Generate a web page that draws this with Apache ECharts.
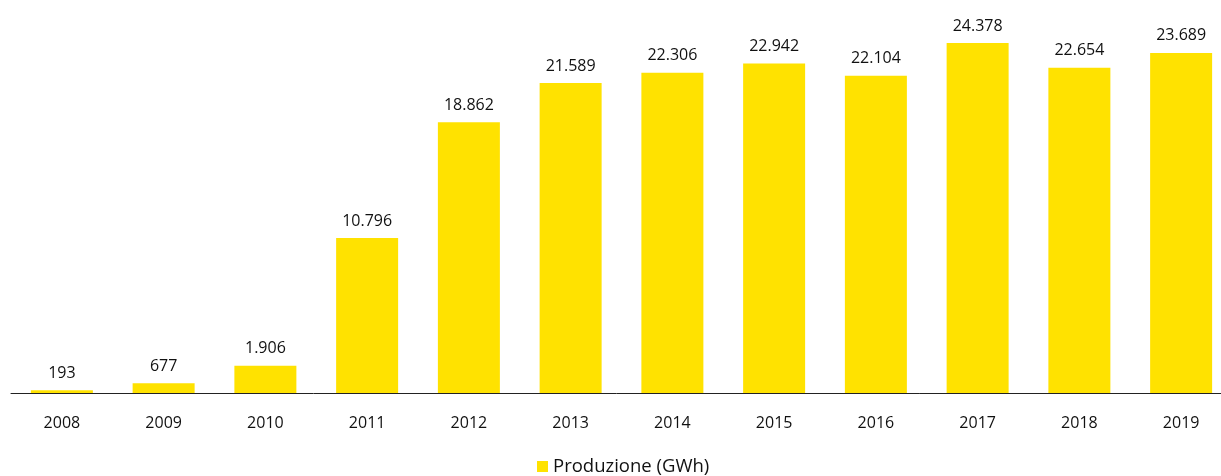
<!DOCTYPE html>
<html><head><meta charset="utf-8">
<script src="https://cdn.jsdelivr.net/npm/echarts@6/dist/echarts.min.js"></script>
<style>html,body{margin:0;padding:0;background:#fff}#c{width:1221px;height:476px}</style>
</head><body><div id="c"></div>
<script>
const categories = ['2008','2009','2010','2011','2012','2013','2014','2015','2016','2017','2018','2019'];
const produzione = [193, 677, 1906, 10796, 18862, 21589, 22306, 22942, 22104, 24378, 22654, 23689];
const seriesName = 'Produzione (GWh)';
const fmt = v => String(v).replace(/\B(?=(\d{3})+(?!\d))/g, '.');
const chart = echarts.init(document.getElementById('c'));
chart.setOption({
  animation: false,
  textStyle: {fontFamily: 'Open Sans'},
  grid: {left: 11, right: -11, top: 0, height: 393, outerBoundsMode: 'none', containLabel: false},
  legend: {
    bottom: -5, left: 532, itemWidth: 11, itemHeight: 11, icon: 'rect', itemGap: 6,
    textStyle: {fontSize: 18.5, color: '#111', fontFamily: 'Open Sans'},
    data: [seriesName]
  },
  xAxis: {
    type: 'category', data: categories,
    axisLine: {lineStyle: {color: '#222', width: 1}},
    axisTick: {show: false},
    axisLabel: {color: '#111', fontSize: 16, margin: 22}
  },
  yAxis: {type: 'value', min: 0, max: 27373, show: false, splitLine: {show: false}},
  series: [{
    name: seriesName, type: 'bar', data: produzione, barWidth: 62,
    itemStyle: {color: '#FFE200'},
    label: {show: true, position: 'top', distance: 9, color: '#111', fontSize: 16, formatter: p => fmt(p.value)}
  }]
});
</script></body></html>
